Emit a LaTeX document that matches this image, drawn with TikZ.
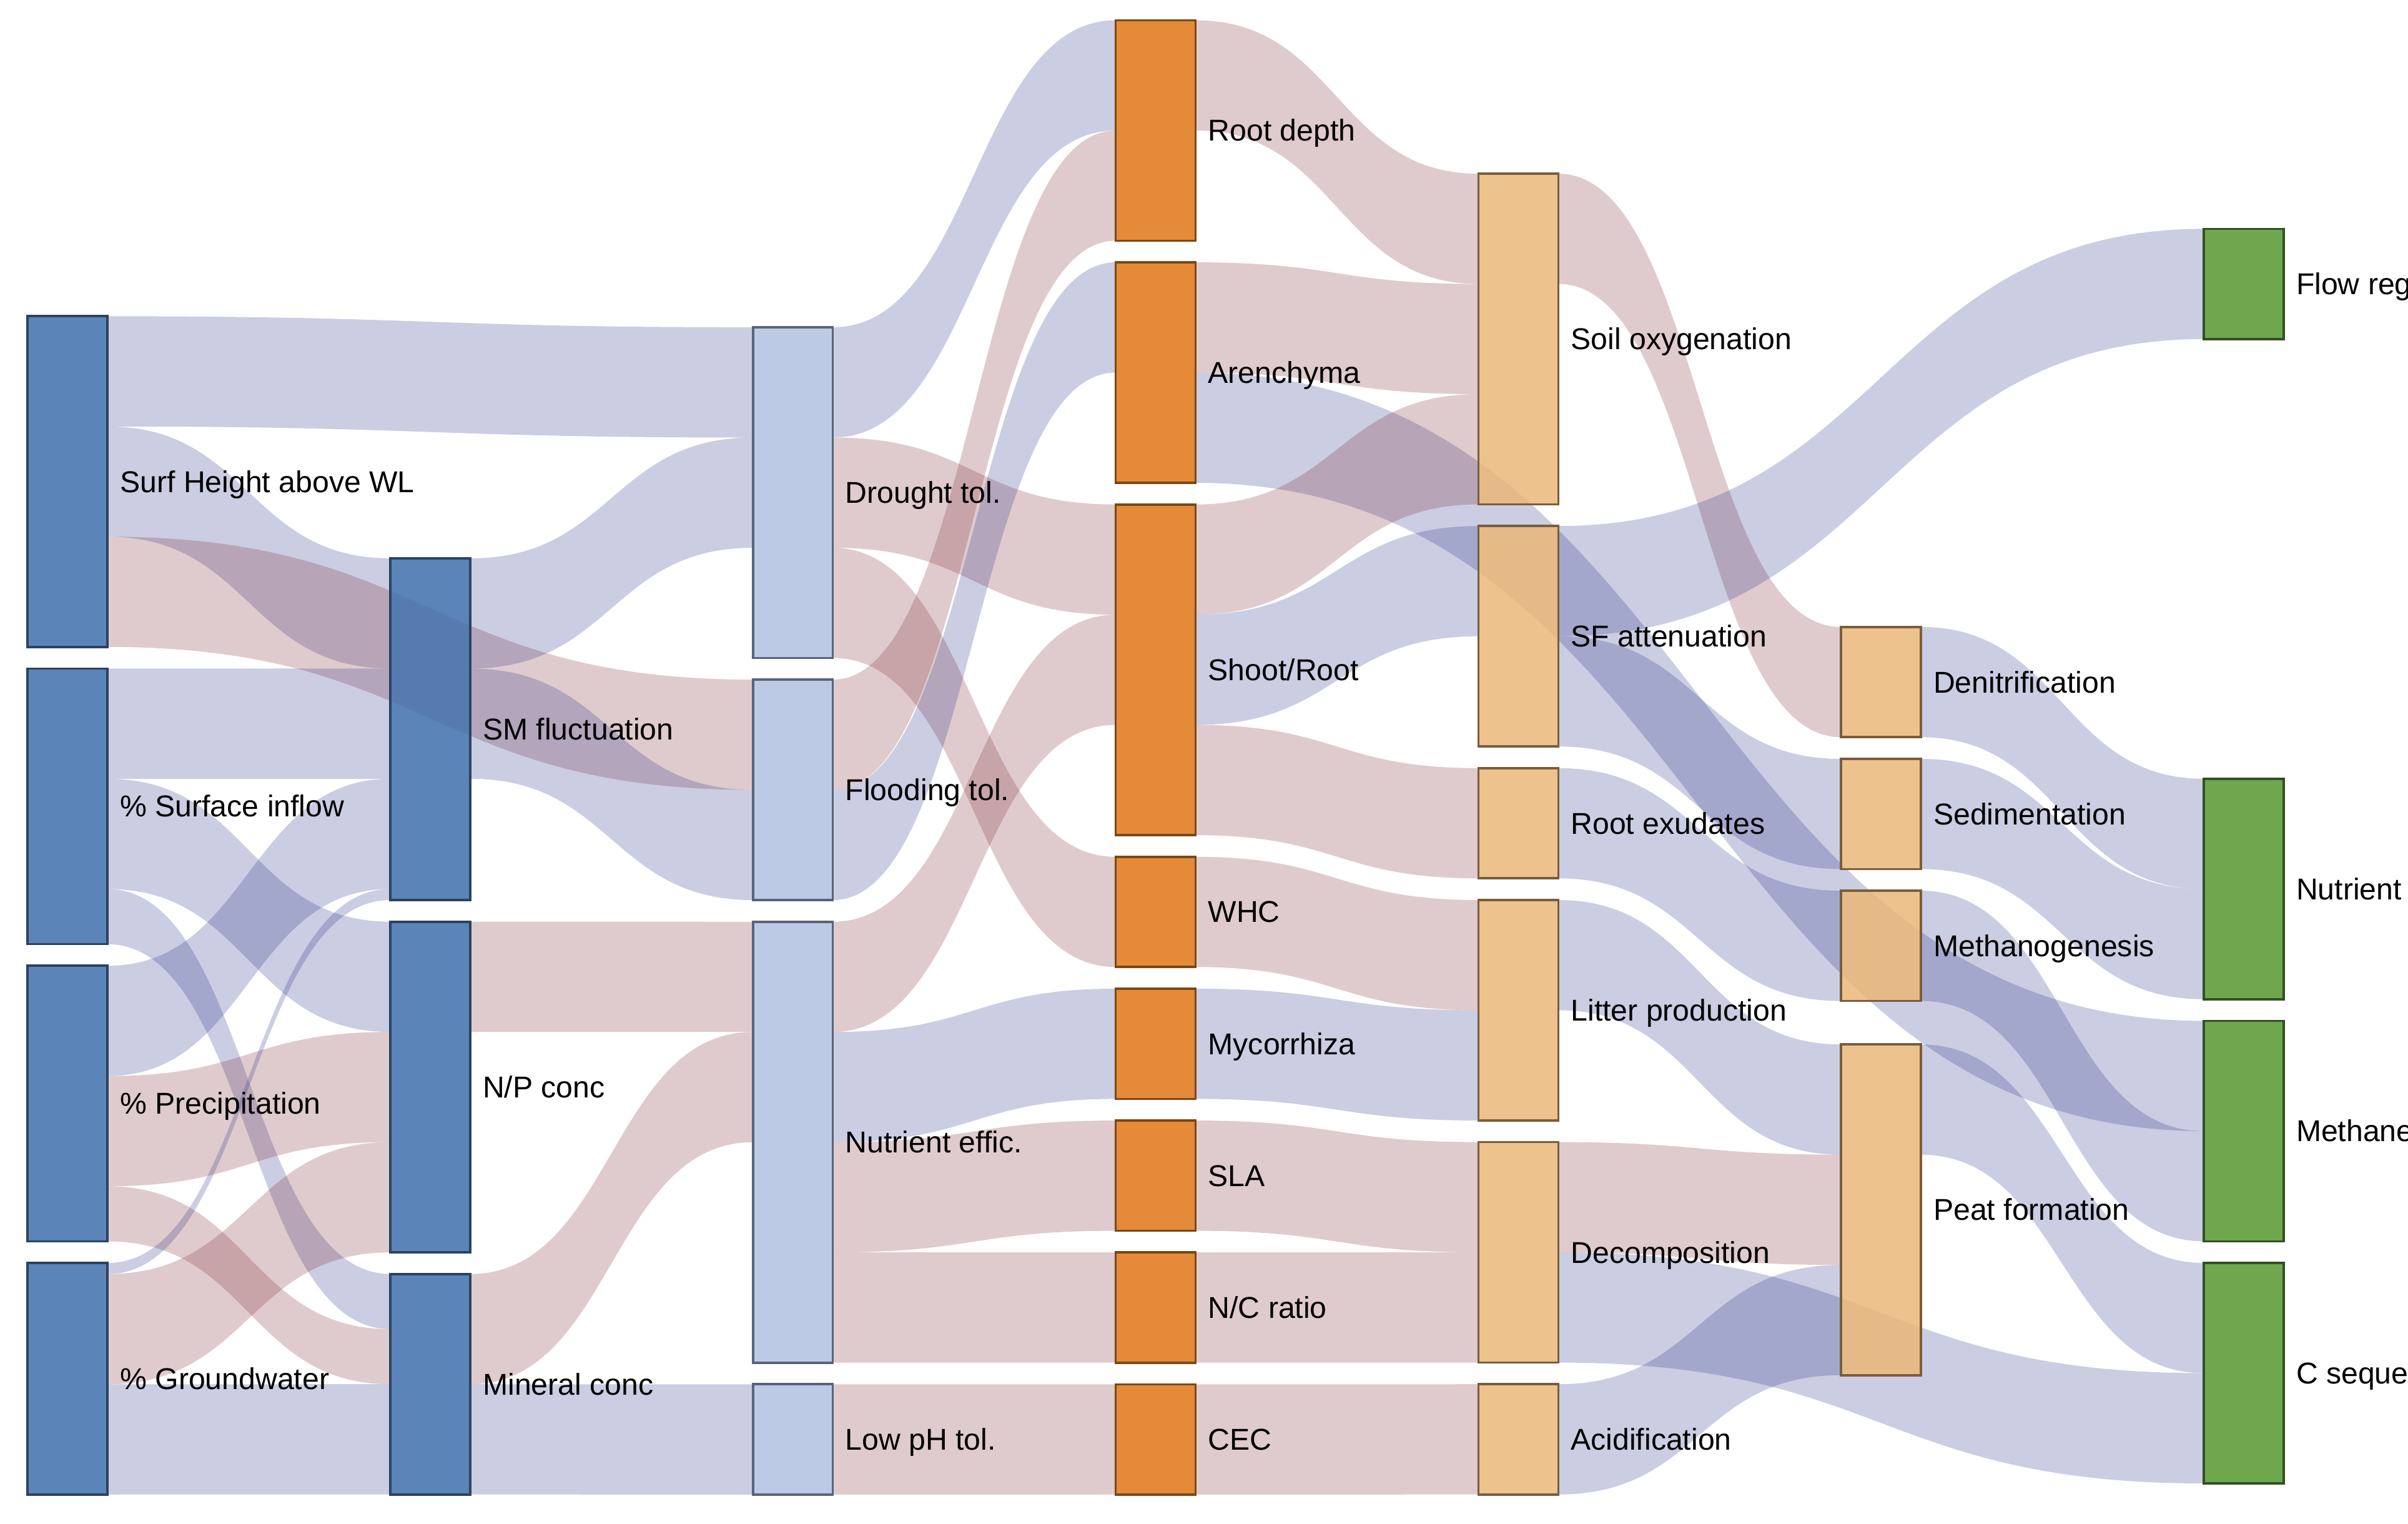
\documentclass[tikz,border=0pt]{standalone}
\usepackage{fontspec}
\setmainfont{Liberation Sans}
\usepackage{xcolor}
\usetikzlibrary{positioning,calc,backgrounds}
\definecolor{hydrofill}{RGB}{62,110,171}
\definecolor{hydroline}{RGB}{44,66,96}
\definecolor{tolfill}{RGB}{176,193,226}
\definecolor{tolline}{RGB}{90,100,120}
\definecolor{traitfill}{RGB}{223,117,22}
\definecolor{traitline}{RGB}{122,72,20}
\definecolor{procfill}{RGB}{235,183,120}
\definecolor{procline}{RGB}{120,94,62}
\definecolor{svcfill}{RGB}{87,151,47}
\definecolor{svcline}{RGB}{50,80,35}
\definecolor{lnkpos}{RGB}{47,55,139}
\definecolor{lnkneg}{RGB}{127,47,55}
\newcommand{\flow}[6]{%
  \coordinate (s0) at ([yshift={-(#2)*71.76pt}]#1.north east);
  \coordinate (s1) at ([yshift={-(#2+#5)*71.76pt}]#1.north east);
  \coordinate (t0) at ([yshift={-(#4)*71.76pt}]#3.north west);
  \coordinate (t1) at ([yshift={-(#4+#5)*71.76pt}]#3.north west);
  \coordinate (m) at ($(s0)!0.5!(t0)$);
  \fill[#6] (s0) .. controls (m |- s0) and (m |- t0) .. (t0) -- (t1) .. controls (m |- t1) and (m |- s1) .. (s1) -- cycle;
}

\begin{document}
\begin{tikzpicture}[x=1pt, y=-1pt, font=\fontsize{19.6pt}{23pt}\selectfont,
  box/.style={draw, line width=1.5pt, minimum width=52pt, inner sep=0pt, outer sep=0pt, fill opacity=0.85, anchor=north west},
  hydro/.style={box, fill=hydrofill, draw=hydroline},
  tol/.style={box, fill=tolfill, draw=tolline},
  trait/.style={box, fill=traitfill, draw=traitline},
  proc/.style={box, fill=procfill, draw=procline},
  svc/.style={box, fill=svcfill, draw=svcline},
  lbl/.style={inner sep=0pt, anchor=base west, yshift=-6.9pt},
  linkpos/.style={fill=lnkpos, fill opacity=0.25},
  linkneg/.style={fill=lnkneg, fill opacity=0.25}]
\useasboundingbox (0,0) rectangle (1568,992);

\node[hydro, minimum height=215.28pt] (sh) at (18,205.9) {};
\node[hydro, minimum height=179.4pt, below=14.1pt of sh] (si) {};
\node[hydro, minimum height=179.4pt, below=14.1pt of si] (pr) {};
\node[hydro, minimum height=150.7pt, below=14.1pt of pr] (gw) {};

\node[hydro, minimum height=222.46pt] (sm) at (254.2,363.5) {};
\node[hydro, minimum height=215.28pt, below=14.1pt of sm] (np) {};
\node[hydro, minimum height=143.52pt, below=14.1pt of np] (mc) {};

\node[tol, minimum height=215.28pt] (dt) at (490.3,213.1) {};
\node[tol, minimum height=143.52pt, below=14.1pt of dt] (ft) {};
\node[tol, minimum height=287.04pt, below=14.1pt of ft] (ne) {};
\node[tol, minimum height=71.76pt, below=14.1pt of ne] (lph) {};

\node[trait, minimum height=143.52pt] (rd) at (726.5,13.2) {};
\node[trait, minimum height=143.52pt, below=14.1pt of rd] (ar) {};
\node[trait, minimum height=215.28pt, below=14.1pt of ar] (sr) {};
\node[trait, minimum height=71.76pt, below=14.1pt of sr] (whc) {};
\node[trait, minimum height=71.76pt, below=14.1pt of whc] (myc) {};
\node[trait, minimum height=71.76pt, below=14.1pt of myc] (sla) {};
\node[trait, minimum height=71.76pt, below=14.1pt of sla] (nc) {};
\node[trait, minimum height=71.76pt, below=14.1pt of nc] (cec) {};

\node[proc, minimum height=215.28pt] (so) at (962.7,113.1) {};
\node[proc, minimum height=143.52pt, below=14.1pt of so] (sf) {};
\node[proc, minimum height=71.76pt, below=14.1pt of sf] (re) {};
\node[proc, minimum height=143.52pt, below=14.1pt of re] (lp) {};
\node[proc, minimum height=143.52pt, below=14.1pt of lp] (de) {};
\node[proc, minimum height=71.76pt, below=14.1pt of de] (ac) {};

\node[proc, minimum height=71.76pt] (den) at (1198.8,408.2) {};
\node[proc, minimum height=71.76pt, below=14.1pt of den] (sed) {};
\node[proc, minimum height=71.76pt, below=14.1pt of sed] (meth) {};
\node[proc, minimum height=215.28pt] (peat) at (1198.8,680) {};

\node[svc, minimum height=71.76pt] (fr) at (1435,149) {};
\node[svc, minimum height=143.52pt] (nr) at (1435,507) {};
\node[svc, minimum height=143.52pt, below=14.1pt of nr] (me) {};
\node[svc, minimum height=143.52pt, below=14.1pt of me] (cs) {};

\node[right=8pt of sh, lbl] {Surf Height above WL};
\node[right=8pt of si, lbl] {\% Surface inflow};
\node[right=8pt of pr, lbl] {\% Precipitation};
\node[right=8pt of gw, lbl] {\% Groundwater};
\node[right=8pt of sm, lbl] {SM fluctuation};
\node[right=8pt of np, lbl] {N/P conc};
\node[right=8pt of mc, lbl] {Mineral conc};
\node[right=8pt of dt, lbl] {Drought tol.};
\node[right=8pt of ft, lbl] {Flooding tol.};
\node[right=8pt of ne, lbl] {Nutrient effic.};
\node[right=8pt of lph, lbl] {Low pH tol.};
\node[right=8pt of rd, lbl] {Root depth};
\node[right=8pt of ar, lbl] {Arenchyma};
\node[right=8pt of sr, lbl] {Shoot/Root};
\node[right=8pt of whc, lbl] {WHC};
\node[right=8pt of myc, lbl] {Mycorrhiza};
\node[right=8pt of sla, lbl] {SLA};
\node[right=8pt of nc, lbl] {N/C ratio};
\node[right=8pt of cec, lbl] {CEC};
\node[right=8pt of so, lbl] {Soil oxygenation};
\node[right=8pt of sf, lbl] {SF attenuation};
\node[right=8pt of re, lbl] {Root exudates};
\node[right=8pt of lp, lbl] {Litter production};
\node[right=8pt of de, lbl] {Decomposition};
\node[right=8pt of ac, lbl] {Acidification};
\node[right=8pt of den, lbl] {Denitrification};
\node[right=8pt of sed, lbl] {Sedimentation};
\node[right=8pt of meth, lbl] {Methanogenesis};
\node[right=8pt of peat, lbl] {Peat formation};
\node[right=8pt of fr, lbl] {Flow reg};
\node[right=8pt of nr, lbl] {Nutrient};
\node[right=8pt of me, lbl] {Methane};
\node[right=8pt of cs, lbl] {C seque};

\begin{scope}[on background layer]
\flow{sh}{0}{dt}{0}{1}{linkpos}
\flow{sh}{1}{sm}{0}{1}{linkpos}
\flow{sh}{2}{ft}{0}{1}{linkneg}
\flow{si}{0}{sm}{1}{1}{linkpos}
\flow{si}{1}{np}{0}{1}{linkpos}
\flow{si}{2}{mc}{0}{0.5}{linkpos}
\flow{pr}{0}{sm}{2}{1}{linkpos}
\flow{pr}{1}{np}{1}{1}{linkneg}
\flow{pr}{2}{mc}{0.5}{0.5}{linkneg}
\flow{gw}{0}{sm}{3}{0.1}{linkpos}
\flow{gw}{0.1}{np}{2}{1}{linkneg}
\flow{gw}{1.1}{mc}{1}{1}{linkpos}
\flow{sm}{0}{dt}{1}{1}{linkpos}
\flow{sm}{1}{ft}{1}{1}{linkpos}
\flow{np}{0}{ne}{0}{1}{linkneg}
\flow{mc}{0}{ne}{1}{1}{linkneg}
\flow{mc}{1}{lph}{0}{1}{linkpos}
\flow{dt}{0}{rd}{0}{1}{linkpos}
\flow{dt}{1}{sr}{0}{1}{linkneg}
\flow{dt}{2}{whc}{0}{1}{linkneg}
\flow{ft}{0}{rd}{1}{1}{linkneg}
\flow{ft}{1}{ar}{0}{1}{linkpos}
\flow{ne}{0}{sr}{1}{1}{linkneg}
\flow{ne}{1}{myc}{0}{1}{linkpos}
\flow{ne}{2}{sla}{0}{1}{linkneg}
\flow{ne}{3}{nc}{0}{1}{linkneg}
\flow{lph}{0}{cec}{0}{1}{linkneg}
\flow{rd}{0}{so}{0}{1}{linkneg}
\flow{ar}{0}{so}{1}{1}{linkneg}
\flow{ar}{1}{me}{0}{1}{linkpos}
\flow{sr}{0}{so}{2}{1}{linkneg}
\flow{sr}{1}{sf}{0}{1}{linkpos}
\flow{sr}{2}{re}{0}{1}{linkneg}
\flow{whc}{0}{lp}{0}{1}{linkneg}
\flow{myc}{0}{lp}{1}{1}{linkpos}
\flow{sla}{0}{de}{0}{1}{linkneg}
\flow{nc}{0}{de}{1}{1}{linkneg}
\flow{cec}{0}{ac}{0}{1}{linkneg}
\flow{so}{0}{den}{0}{1}{linkneg}
\flow{sf}{0}{fr}{0}{1}{linkpos}
\flow{sf}{1}{sed}{0}{1}{linkpos}
\flow{re}{0}{meth}{0}{1}{linkpos}
\flow{lp}{0}{peat}{0}{1}{linkpos}
\flow{de}{0}{peat}{1}{1}{linkneg}
\flow{de}{1}{cs}{1}{1}{linkpos}
\flow{ac}{0}{peat}{2}{1}{linkpos}
\flow{den}{0}{nr}{0}{1}{linkpos}
\flow{sed}{0}{nr}{1}{1}{linkpos}
\flow{meth}{0}{me}{1}{1}{linkpos}
\flow{peat}{0}{cs}{0}{1}{linkpos}
\end{scope}
\end{tikzpicture}
\end{document}
